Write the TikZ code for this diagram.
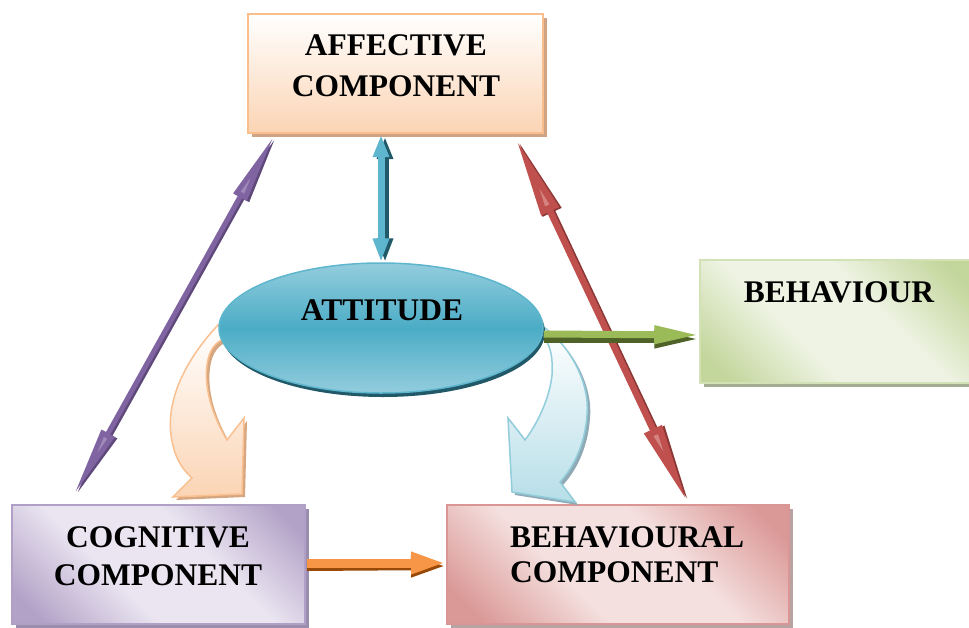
\documentclass[tikz,border=0pt]{standalone}
\usepackage{fontspec}
\setmainfont{Liberation Serif}
\usetikzlibrary{arrows.meta,shapes.geometric,shadows,calc}
\definecolor{affC}{HTML}{FBD4B4}
\definecolor{affB}{HTML}{F9BE8C}
\definecolor{affS}{HTML}{CFA383}
\definecolor{behC}{HTML}{C3D69B}
\definecolor{behM}{HTML}{EEF3E3}
\definecolor{behB}{HTML}{D3E1B7}
\definecolor{behS}{HTML}{A3AD94}
\definecolor{cogC}{HTML}{B3A2C7}
\definecolor{cogM}{HTML}{EAE5F1}
\definecolor{cogB}{HTML}{B1A0C6}
\definecolor{cogS}{HTML}{9B8DAE}
\definecolor{bhcC}{HTML}{DA9896}
\definecolor{bhcM}{HTML}{F4E0DF}
\definecolor{bhcB}{HTML}{D99694}
\definecolor{bhcS}{HTML}{B8A3A3}
\definecolor{tealM}{HTML}{4BACC6}
\definecolor{tealL}{HTML}{93CDDD}
\definecolor{tealD}{HTML}{215968}
\definecolor{tealA}{HTML}{5DB6CE}
\definecolor{purM}{HTML}{8064A2}
\definecolor{purL}{HTML}{9F8AB9}
\definecolor{purD}{HTML}{5F497A}
\definecolor{redM}{HTML}{C0504D}
\definecolor{redL}{HTML}{D48381}
\definecolor{redD}{HTML}{8C3836}
\definecolor{grnL}{HTML}{9BBB59}
\definecolor{grnD}{HTML}{4F6228}
\definecolor{orL}{HTML}{F79646}
\definecolor{orD}{HTML}{984807}
\definecolor{peachB}{HTML}{FAC090}
\definecolor{peachS}{HTML}{D5A67F}
\definecolor{blueC}{HTML}{B7DEE8}
\definecolor{blueB}{HTML}{92CDDC}
\definecolor{blueS}{HTML}{8FAAB5}
\pgfdeclareverticalshading{behSh}{100bp}{color(0bp)=(behC); color(20bp)=(behC); color(40bp)=(behM); color(60bp)=(behM); color(80bp)=(behC); color(100bp)=(behC)}
\pgfdeclareverticalshading{cogSh}{100bp}{color(0bp)=(cogC); color(20bp)=(cogC); color(40bp)=(cogM); color(60bp)=(cogM); color(80bp)=(cogC); color(100bp)=(cogC)}
\pgfdeclareverticalshading{bhcSh}{100bp}{color(0bp)=(bhcC); color(20bp)=(bhcC); color(40bp)=(bhcM); color(60bp)=(bhcM); color(80bp)=(bhcC); color(100bp)=(bhcC)}
\tikzset{
  lbl/.style={font=\fontsize{31.5}{36}\selectfont\bfseries, inner sep=0pt, anchor=base, text=black},
  boxbase/.style={rectangle, inner sep=0pt},
  diagshade/.style={shading=#1, shading angle=-45},
}
\begin{document}
\begin{tikzpicture}[x=1pt,y=-1pt]
\useasboundingbox (0,0) rectangle (969,627);
\fill[white] (0,0) rectangle (969,627);

% boxes
\node[boxbase, minimum width=295pt, minimum height=119pt, top color=white, bottom color=affC,
      draw=affB, line width=2pt,
      drop shadow={shadow xshift=4pt, shadow yshift=-4pt, fill=affS, opacity=1}] (aff) at (395.5,73.5) {};
\node[boxbase, minimum width=272pt, minimum height=123pt, diagshade=behSh,
      draw=behB, line width=1.5pt,
      drop shadow={shadow xshift=4pt, shadow yshift=-4pt, fill=behS, opacity=1}] (beh) at (836,321.5) {};
\node[boxbase, minimum width=293pt, minimum height=119pt, diagshade=cogSh,
      draw=cogB, line width=2pt,
      drop shadow={shadow xshift=4pt, shadow yshift=-4pt, fill=cogS, opacity=1}] (cog) at (158.5,564) {};
\node[boxbase, minimum width=342pt, minimum height=119pt, diagshade=bhcSh,
      draw=bhcB, line width=2pt,
      drop shadow={shadow xshift=4pt, shadow yshift=-4pt, fill=bhcS, opacity=1}] (bhc) at (618,564) {};

% labels
\node[lbl] (t1) at (396,55) {AFFECTIVE};
\node[lbl] (t2) at (396,96) {COMPONENT};
\node[lbl] (t3) at (839,302) {BEHAVIOUR};
\node[lbl] (t5) at (158,547) {COGNITIVE};
\node[lbl] (t6) at (158,585) {COMPONENT};
\node[lbl, anchor=base west] (t7) at (510,547) {BEHAVIOURAL};
\node[lbl, anchor=base west] (t8) at (510,582) {COMPONENT};

% endpoints
\coordinate (pA) at ($(aff.south west)+(27,2)$);
\coordinate (pB) at ($(cog.north west)+(63,-9)$);
\coordinate (rA) at ($(aff.south east)+(-28,5)$);
\coordinate (rB) at ($(bhc.north west)+(241,-2)$);
\coordinate (oA) at ($(cog.east)+(1,-1)$);
\coordinate (oB) at ($(bhc.west)+(0,-1)$);

% purple double arrow
\draw[purD, line width=5.5pt, {Triangle[length=70pt,width=15pt]}-{Triangle[length=70pt,width=15pt]}]
  ($(pA)+(2,1)$) -- ($(pB)+(2,1)$);
\draw[purM, line width=5pt, {Triangle[length=70pt,width=14pt,fill=purL]}-{Triangle[length=70pt,width=14pt,fill=purL]}]
  (pA) -- (pB);

% red double arrow
\draw[redD, line width=7pt, {Triangle[length=80pt,width=19pt]}-{Triangle[length=80pt,width=19pt]}]
  ($(rA)+(2,1)$) -- ($(rB)+(2,1)$);
\draw[redM, line width=6.5pt, {Triangle[length=80pt,width=18pt,fill=redL]}-{Triangle[length=80pt,width=18pt,fill=redL]}]
  (rA) -- (rB);

% orange arrow
\draw[orD, line width=8pt, -{Triangle[length=35pt,width=20pt]}] ($(oA)+(0,4)$) -- ($(oB)+(0,3)$);
\draw[orL, line width=9pt, -{Triangle[length=35pt,width=20pt]}] (oA) -- (oB);

% curved peach arrow
\fill[peachS] (221,328) .. controls (193,358) and (169,398) .. (174,438) .. controls (177,461) and (186,473) .. (195,481) -- (176,500) -- (245,497) -- (247,421) -- (230,443) .. controls (215,418) and (207,391) .. (210,368) .. controls (212,353) and (218,345) .. (229,341) -- cycle;
\path[draw=peachB, line width=1.5pt, top color=white, bottom color=affC]
  (218,325) .. controls (190,355) and (166,395) .. (171,435) .. controls (174,458) and (183,470) .. (192,478) -- (173,497) -- (242,494) -- (244,418) -- (227,440) .. controls (212,415) and (204,388) .. (207,365) .. controls (209,350) and (215,342) .. (226,338) -- cycle;

% curved blue arrow
\fill[blueS] (548,331) .. controls (575,351) and (593,388) .. (590,418) .. controls (588,448) and (576,471) .. (563,485) -- (578,505) -- (515,495) -- (511,421) -- (528,443) .. controls (543,423) and (553,398) .. (555,378) .. controls (556,358) and (553,347) .. (546,340) -- cycle;
\path[draw=blueB, line width=1.5pt, top color=white, bottom color=blueC]
  (545,328) .. controls (572,348) and (590,385) .. (587,415) .. controls (585,445) and (573,468) .. (560,482) -- (575,502) -- (512,492) -- (508,418) -- (525,440) .. controls (540,420) and (550,395) .. (552,375) .. controls (553,355) and (550,344) .. (543,337) -- cycle;

% attitude ellipse
\node[ellipse, minimum width=324pt, minimum height=130pt, inner sep=0pt,
      top color=tealL, bottom color=tealL, middle color=tealM, draw=tealA, line width=1.5pt,
      drop shadow={shadow xshift=2pt, shadow yshift=-4pt, fill=tealD, opacity=1}] (att) at (381,328) {};
\node[lbl] (t4) at (382,320) {ATTITUDE};

% teal double arrow
\coordinate (vA) at (aff.south -| att.north);
\draw[tealD, line width=7pt, {Triangle[length=22pt,width=15pt]}-{Triangle[length=24pt,width=15pt]}]
  ($(vA)+(4,3)$) -- ($(att.north)+(4,0)$);
\draw[tealA, line width=7pt, {Triangle[length=22pt,width=15pt]}-{Triangle[length=24pt,width=15pt]}]
  ($(vA)+(0,1)$) -- (att.north);

% green arrow
\coordinate (gA) at ($(att.east)+(0,8)$);
\draw[grnD, line width=7pt, -{Triangle[length=45pt,width=17pt]}] ($(gA)+(0,3)$) -- ($(beh.west |- gA)+(0,3)$);
\draw[grnL, line width=7pt, -{Triangle[length=45pt,width=17pt]}] ($(gA)+(0,-2)$) -- ($(beh.west |- gA)+(0,-1)$);
\end{tikzpicture}
\end{document}
